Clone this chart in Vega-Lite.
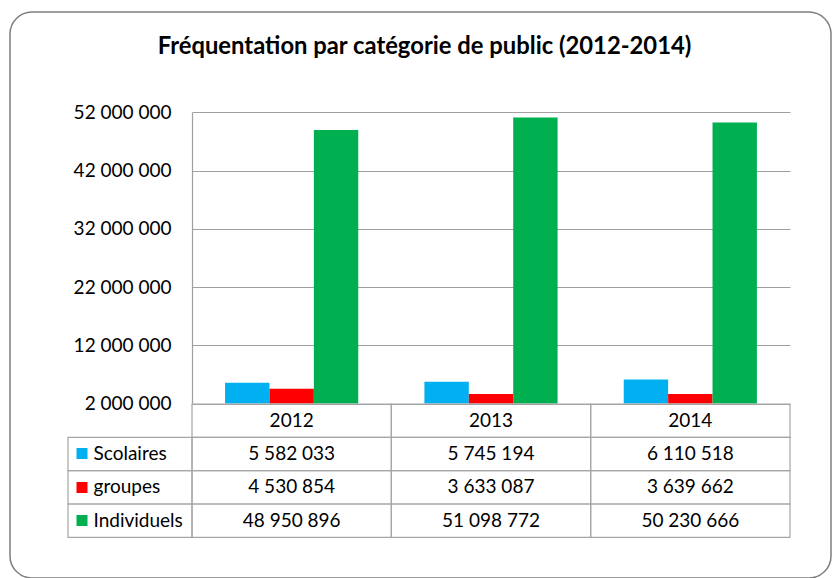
{
  "$schema": "https://vega.github.io/schema/vega-lite/v6.json",
  "width": 821,
  "height": 566,
  "padding": {"left": 10, "top": 12, "right": 1, "bottom": 0},
  "autosize": {"type": "pad"},
  "background": "white",
  "title": {
    "text": "Fréquentation par catégorie de public (2012-2014)",
    "font": "Lato",
    "fontSize": 23.8,
    "fontWeight": "bold",
    "color": "#000000",
    "anchor": "middle",
    "dx": 4,
    "offset": -47
  },
  "datasets": {
    "frequentation": [
      {"annee": "2012", "categorie": "Scolaires", "visiteurs": 5582033},
      {"annee": "2012", "categorie": "groupes", "visiteurs": 4530854},
      {"annee": "2012", "categorie": "Individuels", "visiteurs": 48950896},
      {"annee": "2013", "categorie": "Scolaires", "visiteurs": 5745194},
      {"annee": "2013", "categorie": "groupes", "visiteurs": 3633087},
      {"annee": "2013", "categorie": "Individuels", "visiteurs": 51098772},
      {"annee": "2014", "categorie": "Scolaires", "visiteurs": 6110518},
      {"annee": "2014", "categorie": "groupes", "visiteurs": 3639662},
      {"annee": "2014", "categorie": "Individuels", "visiteurs": 50230666}
    ]
  },
  "data": {"name": "frequentation"},
  "layer": [
    {
      "mark": {"type": "bar"},
      "encoding": {
        "x": {"field": "annee", "type": "nominal", "scale": {"type": "band", "domain": ["2012", "2013", "2014"], "range": [182, 780], "paddingInner": 0, "paddingOuter": 0}, "axis": null},
        "xOffset": {"field": "categorie", "type": "nominal", "scale": {"domain": ["Scolaires", "groupes", "Individuels"], "paddingInner": 0, "paddingOuter": 0.745}},
        "y": {
          "field": "visiteurs", "type": "quantitative",
          "scale": {"domain": [2000000, 52000000], "range": [391.5, 100.3], "nice": false, "zero": false},
          "axis": {
            "orient": "left", "offset": -182,
            "values": [2000000, 12000000, 22000000, 32000000, 42000000, 52000000],
            "labelExpr": "format(datum.value, ',')",
            "domain": true, "domainColor": "#a0a0a0", "domainWidth": 1.2,
            "ticks": false,
            "grid": true, "gridColor": "#a0a0a0", "gridWidth": 1.2,
            "labelFont": "Lato", "labelFontSize": 19, "labelColor": "#000000", "labelPadding": 21,
            "labelFlush": false,
            "title": null
          }
        },
        "y2": {"datum": 2000000},
        "color": {"field": "categorie", "type": "nominal", "scale": {"domain": ["Scolaires", "groupes", "Individuels"], "range": ["#00B0F0", "#FF0000", "#00B050"]}, "legend": null}
      }
    },
    {
      "layer": [
        {
          "transform": [{"filter": "datum.categorie === 'Scolaires'"}],
          "mark": {"type": "rect", "fill": "transparent", "stroke": "#a6a6a6", "strokeWidth": 1.2},
          "encoding": {
            "x": {"field": "annee", "type": "nominal", "scale": {"type": "band", "domain": ["2012", "2013", "2014"], "range": [182, 780], "paddingInner": 0, "paddingOuter": 0}, "axis": null},
            "y": {"datum": "année", "type": "nominal"}
          }
        },
        {
          "mark": {"type": "rect", "fill": "transparent", "stroke": "#a6a6a6", "strokeWidth": 1.2},
          "encoding": {
            "x": {"field": "annee", "type": "nominal", "scale": {"type": "band", "domain": ["2012", "2013", "2014"], "range": [182, 780], "paddingInner": 0, "paddingOuter": 0}, "axis": null},
            "y": {
              "field": "categorie", "type": "nominal",
              "scale": {"type": "band", "domain": ["année", "Scolaires", "groupes", "Individuels"], "range": [392, 525.3], "paddingInner": 0, "paddingOuter": 0},
              "axis": {
                "orient": "left", "offset": -77,
                "domain": false, "grid": false,
                "ticks": true, "tickSize": 11, "tickWidth": 11,
                "tickColor": {
                  "condition": [
                    {"test": "datum.value === 'Scolaires'", "value": "#00B0F0"},
                    {"test": "datum.value === 'groupes'", "value": "#FF0000"},
                    {"test": "datum.value === 'Individuels'", "value": "#00B050"}
                  ],
                  "value": "transparent"
                },
                "labelExpr": "datum.value === 'année' ? '' : datum.value",
                "labelAlign": "left", "labelBaseline": "middle", "labelPadding": -17,
                "labelFont": "Lato", "labelFontSize": 19, "labelColor": "#000000",
                "title": null
              }
            }
          }
        },
        {
          "transform": [{"filter": "datum.annee === '2012'"}],
          "mark": {"type": "rect", "fill": "transparent", "stroke": "#a6a6a6", "strokeWidth": 1.2},
          "encoding": {
            "x": {"datum": "légende", "type": "nominal", "scale": {"type": "band", "domain": ["légende"], "range": [58, 182], "paddingInner": 0, "paddingOuter": 0}, "axis": null},
            "y": {"field": "categorie", "type": "nominal"}
          }
        },
        {
          "transform": [{"filter": "datum.categorie === 'Scolaires'"}],
          "mark": {"type": "text", "font": "Lato", "fontSize": 19, "color": "#000000"},
          "encoding": {
            "x": {"field": "annee", "type": "nominal", "scale": {"type": "band", "domain": ["2012", "2013", "2014"], "range": [182, 780], "paddingInner": 0, "paddingOuter": 0}, "axis": null},
            "y": {"datum": "année", "type": "nominal"},
            "text": {"field": "annee", "type": "nominal"}
          }
        },
        {
          "mark": {"type": "text", "font": "Lato", "fontSize": 19, "color": "#000000"},
          "encoding": {
            "x": {"field": "annee", "type": "nominal", "scale": {"type": "band", "domain": ["2012", "2013", "2014"], "range": [182, 780], "paddingInner": 0, "paddingOuter": 0}, "axis": null},
            "y": {"field": "categorie", "type": "nominal"},
            "text": {"field": "visiteurs", "type": "quantitative", "format": ","}
          }
        }
      ],
      "resolve": {"scale": {"x": "independent"}}
    }
  ],
  "resolve": {"scale": {"x": "independent", "y": "independent"}},
  "config": {
    "view": {"stroke": "#7f7f7f", "strokeWidth": 1.5, "cornerRadius": 22, "fill": "white"},
    "locale": {"number": {"decimal": ",", "thousands": " ", "grouping": [3], "currency": ["", " €"]}}
  }
}
